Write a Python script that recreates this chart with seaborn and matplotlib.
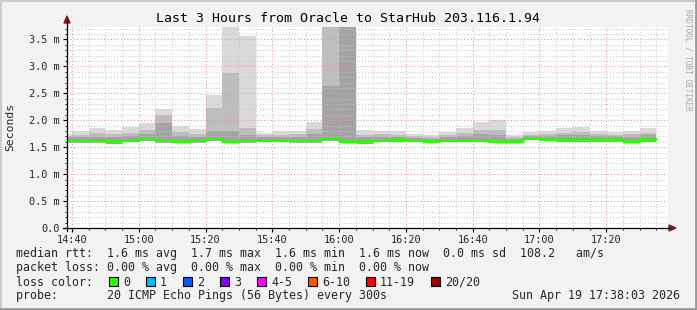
import matplotlib
matplotlib.use("Agg")
import matplotlib.pyplot as plt
import seaborn as sns
import pandas as pd
from matplotlib.patches import Rectangle, Polygon
from matplotlib.lines import Line2D

# ---------------- data ----------------
times = ["14:35", "14:40", "14:45", "14:50", "14:55", "15:00", "15:05", "15:10", "15:15",
         "15:20", "15:25", "15:30", "15:35", "15:40", "15:45", "15:50", "15:55", "16:00",
         "16:05", "16:10", "16:15", "16:20", "16:25", "16:30", "16:35", "16:40", "16:45",
         "16:50", "16:55", "17:00", "17:05", "17:10", "17:15", "17:20", "17:25", "17:30"]
median_ms = [1.63, 1.63, 1.63, 1.62, 1.64, 1.67, 1.63, 1.62, 1.63,
             1.67, 1.61, 1.63, 1.63, 1.64, 1.63, 1.64, 1.67, 1.62,
             1.61, 1.64, 1.65, 1.63, 1.62, 1.63, 1.64, 1.64, 1.62,
             1.61, 1.67, 1.66, 1.65, 1.65, 1.65, 1.66, 1.62, 1.65]
smoke_lo = [1.58, 1.58, 1.57, 1.56, 1.59, 1.62, 1.58, 1.58, 1.58,
            1.61, 1.57, 1.58, 1.59, 1.59, 1.58, 1.58, 1.61, 1.58,
            1.56, 1.59, 1.60, 1.59, 1.57, 1.59, 1.59, 1.59, 1.57,
            1.58, 1.63, 1.62, 1.60, 1.60, 1.60, 1.59, 1.58, 1.60]
smoke_core = [1.68, 1.68, 1.69, 1.68, 1.70, 1.74, 1.94, 1.70, 1.68,
              1.80, 1.80, 1.72, 1.68, 1.68, 1.69, 1.74, 2.64, 3.80,
              1.68, 1.69, 1.69, 1.67, 1.66, 1.68, 1.70, 1.74, 1.72,
              1.66, 1.70, 1.70, 1.72, 1.72, 1.70, 1.70, 1.69, 1.72]
smoke_mid = [1.71, 1.72, 1.76, 1.74, 1.76, 1.82, 2.09, 1.78, 1.74,
             2.22, 2.88, 1.86, 1.72, 1.73, 1.74, 1.84, 3.80, 3.80,
             1.73, 1.74, 1.73, 1.70, 1.69, 1.72, 1.76, 1.82, 1.82,
             1.69, 1.73, 1.74, 1.77, 1.78, 1.74, 1.73, 1.74, 1.77]
smoke_hi = [1.75, 1.80, 1.85, 1.81, 1.87, 1.94, 2.21, 1.90, 1.84,
            2.46, 3.80, 3.56, 1.77, 1.80, 1.80, 1.97, 3.80, 3.80,
            1.81, 1.80, 1.80, 1.74, 1.73, 1.78, 1.85, 1.96, 2.00,
            1.73, 1.78, 1.80, 1.85, 1.88, 1.80, 1.78, 1.80, 1.86]
end_time = "17:35"
x_tick_labels = ["14:40", "15:00", "15:20", "15:40", "16:00", "16:20", "16:40", "17:00", "17:20"]
y_tick_values = [0.0, 0.5, 1.0, 1.5, 2.0, 2.5, 3.0, 3.5]
loss_labels = ["0", "1", "2", "3", "4-5", "6-10", "11-19", "20/20"]
loss_colors = ["#26ff00", "#00b8ff", "#0059ff", "#7e00ff", "#ff00ff", "#ff5500", "#ff0000", "#a00000"]
title = "Last 3 Hours from Oracle to StarHub 203.116.1.94"
legend_rtt = "median rtt:  1.6 ms avg  1.7 ms max  1.6 ms min  1.6 ms now  0.0 ms sd  108.2   am/s"
legend_loss = "packet loss: 0.00 % avg  0.00 % max  0.00 % min  0.00 % now"
legend_probe = "probe:       20 ICMP Echo Pings (56 Bytes) every 300s"
stamp = "Sun Apr 19 17:38:03 2026"


def to_min(t):
    h, m = map(int, t.split(":"))
    return h * 60 + m - 14 * 60


df = pd.DataFrame({"t": [to_min(t) for t in times], "median": median_ms,
                   "lo": smoke_lo, "core": smoke_core, "mid": smoke_mid, "hi": smoke_hi})

# ---------------- style ----------------
sns.set_style("white")
plt.rcParams["font.family"] = ["DejaVu Sans Mono"]

W, H = 697, 310
fig = plt.figure(figsize=(W / 100, H / 100), dpi=100, facecolor="#f2f2f2")


def P(x, y):
    return (x / W, 1 - y / H)


AX_L, AX_R, AX_T, AX_B = 67, 668, 27, 228
ax = fig.add_axes([AX_L / W, 1 - AX_B / H, (AX_R - AX_L) / W, (AX_B - AX_T) / H])
ax.set_facecolor("white")
XMIN, XMAX = 38.5, 218.5
YMAX = 3.73
ax.set_xlim(XMIN, XMAX)
ax.set_ylim(0, YMAX)

# smoke
ax.bar(df["t"], df["hi"] - df["lo"], bottom=df["lo"], width=5, align="edge",
       color="#dadada", linewidth=0, zorder=1)
ax.bar(df["t"], df["mid"] - df["lo"], bottom=df["lo"], width=5, align="edge",
       color="#bdbdbd", linewidth=0, zorder=1.1)
ax.bar(df["t"], df["core"] - df["lo"], bottom=df["lo"], width=5, align="edge",
       color="#a3a3a3", linewidth=0, zorder=1.2)

# median line
med = pd.DataFrame({"t": list(df["t"]) + [to_min(end_time)],
                    "median": list(df["median"]) + [median_ms[-1]]})
sns.lineplot(data=med, x="t", y="median", drawstyle="steps-post", color="#26ff00",
             linewidth=1.9, estimator=None, ax=ax, zorder=4)

# grid
ax.set_axisbelow(False)
xt = [to_min(t) for t in x_tick_labels]
ax.set_xticks(xt)
ax.set_xticklabels(x_tick_labels)
ax.set_xticks([m for m in range(40, 219, 5)], minor=True)
ax.set_yticks(y_tick_values)
ax.set_yticklabels(["0.0" if v == 0 else f"{v:.1f} m" for v in y_tick_values])
ax.set_yticks([v / 10 for v in range(0, 38)], minor=True)
ax.grid(which="minor", color="#c8c8c8", linestyle=(0, (1, 2)), linewidth=0.7, zorder=2.5)
ax.grid(which="major", color="#f09a9a", linestyle=(0, (1, 2)), linewidth=0.8, zorder=2.6)
ax.set_xlabel("")
ax.set_ylabel("")
for s in ax.spines.values():
    s.set_visible(False)
ax.tick_params(axis="both", which="major", direction="out", length=3, width=0.8,
               color="black", labelsize=7.4, pad=2)
ax.tick_params(axis="both", which="minor", direction="out", length=1.5, width=0.6, color="black")
ax.tick_params(axis="x", which="both", bottom=True)
ax.tick_params(axis="y", which="both", left=True)

# axes lines with arrows (pixel space)
fig.add_artist(Line2D([P(67, 0)[0]] * 2, [P(0, 231)[1], P(0, 20)[1]], color="black", lw=0.9))
fig.add_artist(Line2D([P(63, 0)[0], P(670, 0)[0]], [P(0, 228)[1]] * 2, color="black", lw=0.9))
fig.add_artist(Polygon([P(64, 23), P(70, 23), P(67, 16)], closed=True, color="#8b1a1a",
                       transform=fig.transFigure))
fig.add_artist(Polygon([P(669, 225), P(669, 231), P(676, 228)], closed=True, color="#8b1a1a",
                       transform=fig.transFigure))

# texts
fig.text(*P(348, 19), title, ha="center", va="center", fontsize=9.5, color="black")
fig.text(*P(10, 127), "Seconds", ha="center", va="center", rotation=90, fontsize=8.2)
fig.text(*P(688, 60), "RRDTOOL / TOBI OETIKER", ha="center", va="center", rotation=270,
         fontsize=5.6, color="#a8a8a8")

LFS = 8.4
CW = 7.0
fig.text(*P(16, 254), legend_rtt, ha="left", va="center", fontsize=LFS)
fig.text(*P(16, 268), legend_loss, ha="left", va="center", fontsize=LFS)
fig.text(*P(16, 282), "loss color:", ha="left", va="center", fontsize=LFS)
x = 109
for lab, col in zip(loss_labels, loss_colors):
    fig.add_artist(Rectangle(P(x, 286), 9 / W, 9 / H, facecolor=col, edgecolor="black",
                             linewidth=0.8, transform=fig.transFigure))
    tx = x + 14
    fig.text(*P(tx, 282), lab, ha="left", va="center", fontsize=LFS)
    x = tx + len(lab) * CW + 16
fig.text(*P(16, 296), legend_probe, ha="left", va="center", fontsize=LFS)
fig.text(*P(680, 296), stamp, ha="right", va="center", fontsize=LFS)

# bevel frame
fig.add_artist(Line2D([0, 1], [1 - 1 / H, 1 - 1 / H], color="#cbcbcb", lw=1.5))
fig.add_artist(Line2D([1 / W, 1 / W], [0, 1], color="#cbcbcb", lw=1.5))
fig.add_artist(Line2D([0, 1], [1 / H, 1 / H], color="#999999", lw=2))
fig.add_artist(Line2D([1 - 1 / W, 1 - 1 / W], [0, 1], color="#999999", lw=2))

fig.savefig("out.png", dpi=100, facecolor=fig.get_facecolor())
